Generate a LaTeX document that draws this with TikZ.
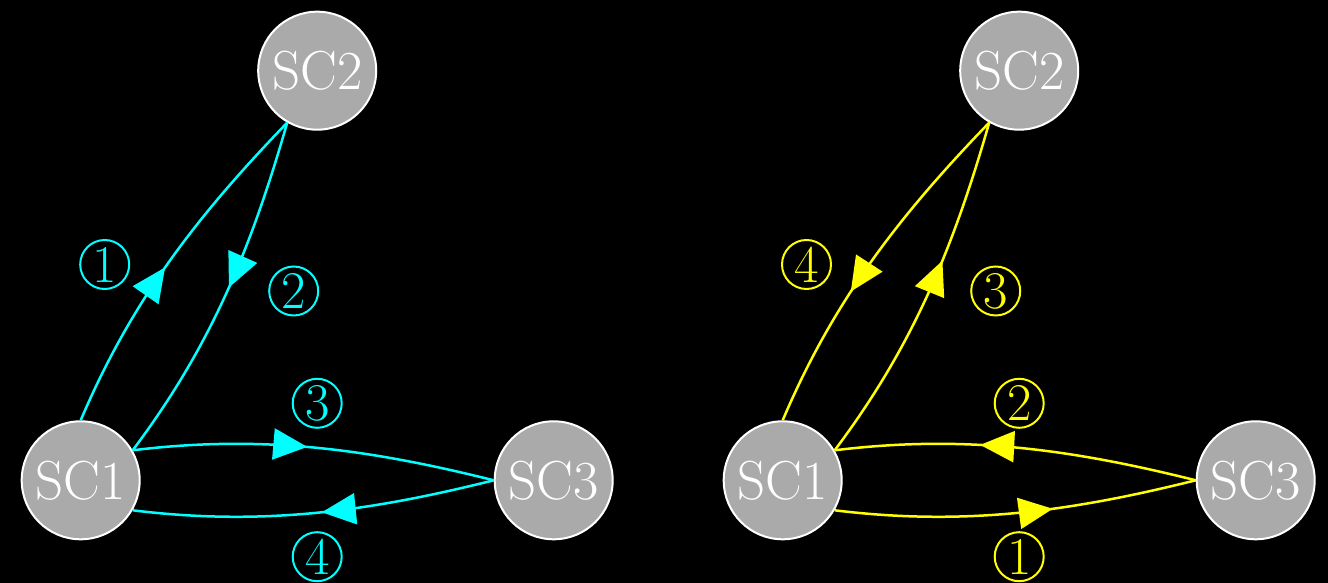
\documentclass[tikz,border=0pt]{standalone}
\usepackage{fontspec}
\usetikzlibrary{arrows.meta,decorations.markings}
\definecolor{nodegray}{RGB}{170,170,170}
\definecolor{linkcyan}{RGB}{0,255,255}
\definecolor{linkyellow}{RGB}{255,255,0}

\begin{document}
\begin{tikzpicture}[x=0.5pt,y=0.5pt,
  sc/.style={circle, fill=nodegray, draw=white, line width=1pt,
    minimum size=59pt, inner sep=0pt, text=white,
    font=\fontsize{27.5}{32}\selectfont},
  num/.style={circle, draw, line width=1pt, minimum size=24.5pt,
    inner sep=0pt, font=\fontsize{26.5}{30}\selectfont},
  link/.style={line width=1.25pt},
  tipat/.style={postaction={decorate},
    decoration={markings, mark=at position #1 with
      {\arrow{Triangle[length=17pt,width=15.5pt]}}}},
]
\fill[black] (0,0) rectangle (1328,583);
\useasboundingbox (0,0) rectangle (1328,583);

% ---------- left graph (cyan) ----------
\node[sc] (a1) at (80.7,102.7) {SC1};
\node[sc] (a2) at (317.2,512.3) {SC2};
\node[sc] (a3) at (553.7,102.7) {SC3};

\draw[link, linkcyan, tipat=0.48] (a1.90) .. controls +(67:130) and +(226:130) .. (a2.-120);
\draw[link, linkcyan, tipat=0.48] (a2.-120) .. controls +(254:130) and +(53:130) .. (a1.30);
\draw[link, linkcyan, tipat=0.48] (a1.30) .. controls +(7:130) and +(166:130) .. (a3.180);
\draw[link, linkcyan, tipat=0.48] (a3.180) .. controls +(194:130) and +(-7:130) .. (a1.-30);

\node[num, linkcyan] (la1) at (104.7,318.5) {1};
\node[num, linkcyan] (la2) at (293.7,292) {2};
\node[num, linkcyan] (la3) at (317.2,179.7) {3};
\node[num, linkcyan] (la4) at (317.2,26.3) {4};

% ---------- right graph (yellow) ----------
\node[sc] (b1) at (782.7,102.7) {SC1};
\node[sc] (b2) at (1019.2,512.3) {SC2};
\node[sc] (b3) at (1255.7,102.7) {SC3};

\draw[link, linkyellow, tipat=0.6] (b2.-120) .. controls +(226:130) and +(67:130) .. (b1.90);
\draw[link, linkyellow, tipat=0.6] (b1.30) .. controls +(53:130) and +(254:130) .. (b2.-120);
\draw[link, linkyellow, tipat=0.6] (b3.180) .. controls +(166:130) and +(7:130) .. (b1.30);
\draw[link, linkyellow, tipat=0.6] (b1.-30) .. controls +(-7:130) and +(194:130) .. (b3.180);

\node[num, linkyellow] (lb4) at (806.5,318.5) {4};
\node[num, linkyellow] (lb3) at (995.7,292) {3};
\node[num, linkyellow] (lb2) at (1019.2,179.7) {2};
\node[num, linkyellow] (lb1) at (1019.2,26.3) {1};
\end{tikzpicture}
\end{document}
